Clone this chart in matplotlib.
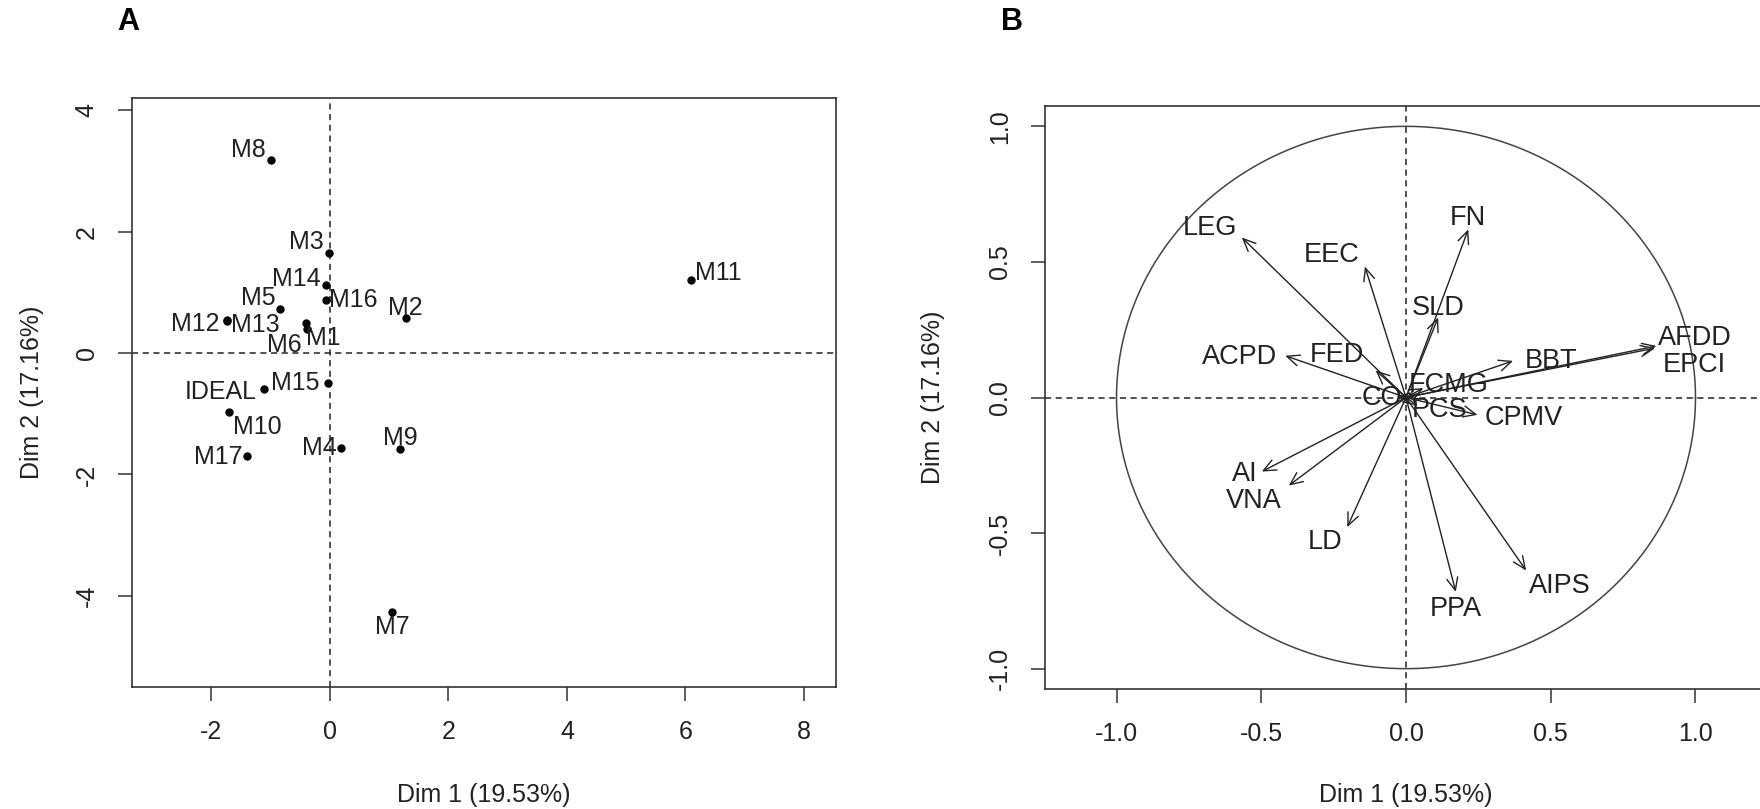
import numpy as np
import matplotlib
matplotlib.use("Agg")
import matplotlib.pyplot as plt

plt.rcParams['font.family'] = ['Liberation Sans', 'DejaVu Sans']
plt.rcParams['axes.unicode_minus'] = False

# ---------------- data: individuals (panel A) ----------------
ind_names = ['M1', 'M2', 'M3', 'M4', 'M5', 'M6', 'M7', 'M8', 'M9', 'M10',
             'M11', 'M12', 'M13', 'M14', 'M15', 'M16', 'M17', 'IDEAL']
ind_x = [-0.39, 1.28, -0.02, 0.19, -0.84, -0.41, 1.05, -1.00, 1.18, -1.70,
         6.09, -1.74, -1.73, -0.07, -0.04, -0.07, -1.40, -1.11]
ind_y = [0.39, 0.58, 1.64, -1.56, 0.73, 0.50, -4.26, 3.18, -1.58, -0.97,
         1.20, 0.54, 0.53, 1.12, -0.50, 0.87, -1.69, -0.60]

# ---------------- data: variables (panel B) ----------------
var_names = ['LEG', 'EEC', 'FN', 'SLD', 'ACPD', 'FED', 'FCMG', 'CO', 'PCS',
             'CPMV', 'BBT', 'AFDD', 'EPCI', 'AI', 'VNA', 'LD', 'PPA', 'AIPS']
var_x = [-0.567, -0.142, 0.215, 0.111, -0.417, -0.105, 0.060, -0.030, 0.040,
         0.247, 0.370, 0.865, 0.860, -0.498, -0.405, -0.203, 0.172, 0.415]
var_y = [0.590, 0.483, 0.620, 0.295, 0.154, 0.100, 0.035, 0.005, -0.030,
         -0.064, 0.135, 0.190, 0.182, -0.273, -0.325, -0.478, -0.717, -0.638]

xlabel = 'Dim 1 (19.53%)'
ylabel = 'Dim 2 (17.16%)'
xticks_A = [-2, 0, 2, 4, 6, 8]
yticks_A = [-4, -2, 0, 2, 4]
ticks_B = [-1.0, -0.5, 0.0, 0.5, 1.0]

# label offsets (points) - layout only
ind_off = {'M1': (12, -6), 'M2': (0, 7), 'M3': (-16, 8), 'M4': (-16, 0),
           'M5': (-16, 8), 'M6': (-15, -16), 'M7': (0, -11), 'M8': (-16, 7),
           'M9': (0, 8), 'M10': (20, -11), 'M11': (20, 5), 'M12': (-23, -3),
           'M13': (20, -3), 'M14': (-21, 4), 'M15': (-23, 0), 'M16': (20, 0),
           'M17': (-21, -1), 'IDEAL': (-31, -2)}
var_off = {'LEG': (-23, 7), 'EEC': (-24, 8), 'FN': (0, 8), 'SLD': (0, 7),
           'ACPD': (-33, -1), 'FED': (-28, 11), 'FCMG': (18, 2), 'CO': (-11, -1),
           'PCS': (16, -3), 'CPMV': (33, -2), 'BBT': (27, 0), 'AFDD': (28, 6),
           'EPCI': (28, -12), 'AI': (-12, -2), 'VNA': (-25, -11), 'LD': (-16, -11),
           'PPA': (0, -12), 'AIPS': (24, -11)}

TXT = '#222222'
TICK_FS = 18

fig = plt.figure(figsize=(17.6, 8.09), dpi=100)

def style_axes(ax):
    for s in ax.spines.values():
        s.set_color('#333333')
        s.set_linewidth(1.2)
    ax.tick_params(direction='out', length=10, width=1.1, color='#333333',
                   labelsize=TICK_FS, labelcolor=TXT, pad=14)
    ax.tick_params(axis='y', labelrotation=90)
    for lab in ax.get_yticklabels():
        lab.set_verticalalignment('center')

# ---------------- panel A ----------------
axA = fig.add_axes([132/1760, 1-687/809, (836-132)/1760, (687-98)/809])
axA.set_xlim(-3.34, 8.54)
axA.set_ylim(-5.5, 4.2)
axA.set_xticks(xticks_A)
axA.set_yticks(yticks_A)
axA.axhline(0, color='#222222', lw=1.1, ls=(0, (4, 3)))
axA.axvline(0, color='#222222', lw=1.1, ls=(0, (4, 3)))
axA.plot(ind_x, ind_y, 'o', color='black', markersize=5, ls='none')
for n, x, y in zip(ind_names, ind_x, ind_y):
    dx, dy = ind_off[n]
    axA.annotate(n, (x, y), xytext=(dx, dy), textcoords='offset points',
                 ha='center', va='center', fontsize=18, color=TXT)
style_axes(axA)
axA.set_xlabel(xlabel, fontsize=TICK_FS, color=TXT, va='center')
axA.xaxis.set_label_coords(0.5, (687-795)/589)
axA.set_ylabel(ylabel, fontsize=TICK_FS, color=TXT, va='center')
axA.yaxis.set_label_coords((32-132)/704, 0.5)

# ---------------- panel B ----------------
axB = fig.add_axes([1045/1760, 1-689/809, (1767-1045)/1760, (689-106)/809])
axB.set_xlim(-1.247, 1.247)
axB.set_ylim(-1.075, 1.075)
axB.set_xticks(ticks_B)
axB.set_yticks(ticks_B)
axB.set_xticklabels(['%.1f' % t for t in ticks_B])
axB.set_yticklabels(['%.1f' % t for t in ticks_B])
axB.axhline(0, color='#222222', lw=1.1, ls=(0, (4, 3)))
axB.axvline(0, color='#222222', lw=1.1, ls=(0, (4, 3)))
t = np.linspace(0, 2*np.pi, 400)
axB.plot(np.cos(t), np.sin(t), color='#444444', lw=1.1)
for n, x, y in zip(var_names, var_x, var_y):
    axB.annotate('', xy=(x, y), xytext=(0, 0),
                 arrowprops=dict(arrowstyle='->,head_length=0.45,head_width=0.2',
                                 mutation_scale=20, lw=1.0, color='#222222',
                                 shrinkA=0, shrinkB=0))
    dx, dy = var_off[n]
    axB.annotate(n, (x, y), xytext=(dx, dy), textcoords='offset points',
                 ha='center', va='center', fontsize=19.5, color=TXT)
style_axes(axB)
axB.set_xlabel(xlabel, fontsize=TICK_FS, color=TXT, va='center')
axB.xaxis.set_label_coords(0.5, (689-795)/583)
axB.set_ylabel(ylabel, fontsize=TICK_FS, color=TXT, va='center')
axB.yaxis.set_label_coords((933-1045)/722, 0.5)

# panel letters
fig.text(128/1760, 1-22/809, 'A', fontsize=22, fontweight='bold',
         ha='center', va='center', color='black')
fig.text(1012/1760, 1-22/809, 'B', fontsize=22, fontweight='bold',
         ha='center', va='center', color='black')

fig.savefig('out.png', dpi=100)
